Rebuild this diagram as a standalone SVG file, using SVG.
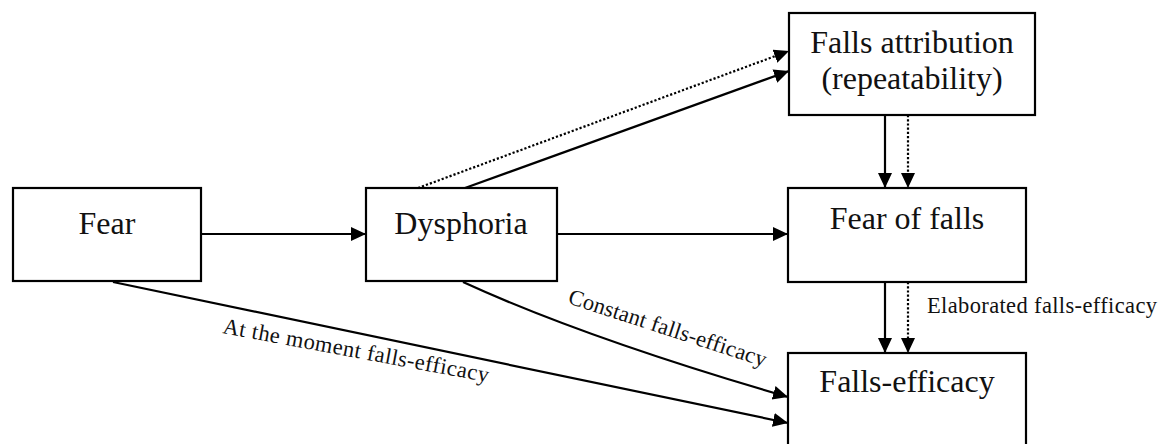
<svg xmlns="http://www.w3.org/2000/svg" width="1172" height="444" viewBox="0 0 1172 444">
<style>
.box{fill:#fff;stroke:#000;stroke-width:2.2}
.t{font-family:"Liberation Serif","Times New Roman",serif;font-size:32px;fill:#111;text-anchor:middle}
.lbl{font-family:"Liberation Serif","Times New Roman",serif;font-size:22.5px;fill:#111}
.c{fill:none;stroke:#000;stroke-width:2.2;marker-end:url(#ah)}
.d{stroke-dasharray:2.2 2}
</style>
<defs>
<marker id="ah" markerUnits="userSpaceOnUse" markerWidth="16" markerHeight="15" refX="15" refY="7" orient="auto">
<path d="M0,0 L15,7 L0,14 z" fill="#000"/>
</marker>
</defs>
<g id="connectors">
<path class="c" d="M201,234 L366,234"/>
<path class="c" d="M557,234 L788,234"/>
<path class="c" d="M465,188 L789,71"/>
<path class="c d" d="M418,188 L789,51"/>
<path class="c" d="M885,115 L885,188"/>
<path class="c d" d="M908,115 L908,188"/>
<path class="c" d="M885,282 L885,353"/>
<path class="c d" d="M908,282 L908,353"/>
<path class="c" d="M113,282 L788,423"/>
<path class="c" d="M463,282 Q585,338 788,397"/>
<text class="lbl" transform="translate(222,333) rotate(10.5)" textLength="270" lengthAdjust="spacing">At the moment falls-efficacy</text>
<text class="lbl" transform="translate(567,303) rotate(18)" textLength="207" lengthAdjust="spacing">Constant falls-efficacy</text>
<text class="lbl" x="927" y="313" textLength="230" lengthAdjust="spacing">Elaborated falls-efficacy</text>
</g>
<g id="fear">
<rect class="box" x="13" y="188" width="188" height="93"/>
<text class="t" x="107" y="234">Fear</text>
</g>
<g id="dysphoria">
<rect class="box" x="366" y="188" width="191" height="93"/>
<text class="t" x="461" y="234">Dysphoria</text>
</g>
<g id="falls-attribution">
<rect class="box" x="789" y="13" width="246" height="102"/>
<text class="t" x="912" y="53">Falls attribution</text>
<text class="t" x="912" y="89">(repeatability)</text>
</g>
<g id="fear-of-falls">
<rect class="box" x="788" y="188" width="238" height="94"/>
<text class="t" x="907" y="229">Fear of falls</text>
</g>
<g id="falls-efficacy">
<rect class="box" x="788" y="353" width="238" height="100"/>
<text class="t" x="907" y="392">Falls-efficacy</text>
</g>
</svg>
